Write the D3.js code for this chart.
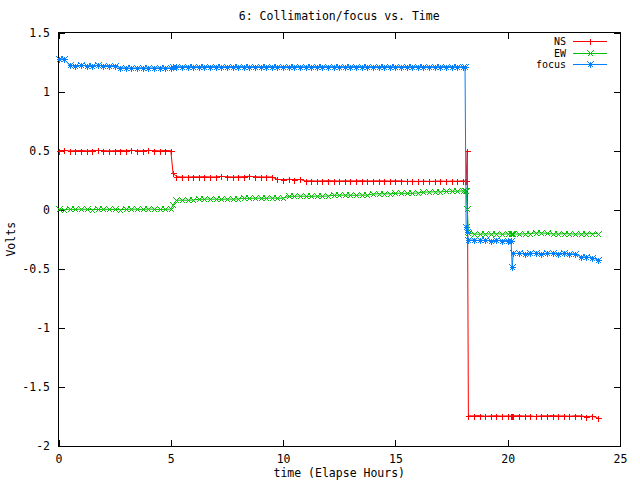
<!DOCTYPE html>
<html>
<head>
<meta charset="utf-8">
<script src="https://cdn.jsdelivr.net/npm/d3@7"></script>
<style>
  html, body { margin: 0; padding: 0; background: #fff; }
  svg { display: block; }
  text { font-family: "DejaVu Sans Mono", "Liberation Mono", monospace; font-size: 11.5px; fill: #000; }
  text.leg { font-size: 10px; }
</style>
</head>
<body>
<svg id="chart" width="640" height="480"></svg>
<script>
// ---- data ----
const hours = [
  0,0.25,0.5,0.75,1,1.25,1.5,1.75,2,2.25,2.5,2.75,3,3.25,3.5,3.75,4,4.25,4.5,4.75,5,
  5.1,
  5.25,5.5,5.75,6,6.25,6.5,6.75,7,7.25,7.5,7.75,8,8.25,8.5,8.75,9,9.25,9.5,9.75,10,
  10.25,10.5,10.75,11,11.25,11.5,11.75,12,12.25,12.5,12.75,13,13.25,13.5,13.75,14,
  14.25,14.5,14.75,15,15.25,15.5,15.75,16,16.25,16.5,16.75,17,17.25,17.5,17.75,18,
  18.1,18.15,18.2,18.25,
  18.5,18.75,19,19.25,19.5,19.75,20,
  20.15,20.2,20.25,
  20.5,20.75,21,21.25,21.5,21.75,22,22.25,22.5,22.75,23,23.25,23.5,23.75,24
];
const ns = [
  0.500,0.502,0.498,0.500,0.501,0.499,0.500,0.502,0.500,0.498,0.500,0.501,0.500,0.503,0.499,0.500,0.502,0.500,0.499,0.501,0.500,
  0.310,
  0.280,0.277,0.276,0.279,0.278,0.280,0.277,0.278,0.282,0.279,0.277,0.278,0.280,0.283,0.279,0.278,0.277,0.278,
  0.256,0.255,0.257,0.255,0.256,
  0.244,0.245,0.243,0.244,0.246,0.244,0.243,0.245,0.244,0.244,0.246,0.243,0.244,0.245,0.244,0.243,0.245,0.244,
  0.240,0.241,0.239,0.242,0.240,0.241,0.243,0.240,0.242,0.241,0.245,
  0.242,0.245,0.500,-1.745,
  -1.745,-1.742,-1.748,-1.745,-1.744,-1.747,-1.745,
  -1.746,-1.744,-1.745,
  -1.743,-1.746,-1.745,-1.750,-1.744,-1.745,-1.742,-1.746,-1.745,-1.748,-1.744,-1.745,-1.752,-1.748,-1.760
];
const ew = [
  0.003,0.001,0.004,0.002,0.005,0.003,0.001,0.002,0.004,0.003,0.002,0.001,0.003,0.005,0.004,0.002,0.006,0.004,0.002,0.003,0.005,
  0.040,
  0.080,0.081,0.080,0.082,
  0.088,0.089,0.090,0.089,0.088,0.090,0.089,0.091,
  0.097,0.096,0.098,0.097,0.097,0.099,0.097,0.098,
  0.113,0.114,0.115,0.114,0.113,0.115,0.114,0.116,
  0.122,0.123,0.124,0.123,0.122,0.124,0.123,
  0.133,0.134,0.135,0.134,
  0.139,0.140,0.138,0.139,0.141,
  0.149,0.150,0.151,0.150,
  0.155,0.156,0.157,0.158,
  0.157,0.155,0.010,-0.200,
  -0.205,-0.208,-0.204,-0.206,-0.203,-0.207,-0.205,
  -0.206,-0.204,-0.205,
  -0.207,-0.204,-0.203,-0.197,-0.196,-0.200,-0.205,-0.206,-0.203,-0.204,-0.206,-0.205,-0.204,-0.203,-0.202
];
const focus = [
  1.278,1.276,1.222,1.220,1.221,1.219,1.220,1.222,1.220,1.219,1.220,1.201,1.200,1.199,1.200,1.201,1.199,1.200,1.201,1.200,1.200,
  1.208,
  1.211,1.210,1.212,1.211,1.210,1.211,1.212,1.211,1.210,1.211,
  1.211,1.212,1.210,1.211,1.211,1.210,1.212,1.211,1.211,1.210,
  1.211,1.212,1.211,1.210,1.211,1.211,1.212,1.210,1.211,1.211,
  1.210,1.211,1.212,1.211,1.210,1.211,1.211,1.212,1.211,1.210,
  1.211,1.211,1.210,1.212,1.211,1.211,1.210,1.211,1.212,1.211,
  1.210,1.211,
  1.211,-0.150,-0.190,-0.255,
  -0.258,-0.260,-0.259,-0.261,-0.260,-0.262,-0.261,
  -0.262,-0.483,-0.370,
  -0.370,-0.371,-0.369,-0.370,-0.371,-0.370,-0.369,-0.371,-0.370,-0.372,-0.375,-0.398,-0.401,-0.405,-0.425
];
const seriesNames = ["NS", "EW", "focus"];
const seriesColors = ["#ff0000", "#00c000", "#0080ff"];
const seriesMarkers = ["plus", "cross", "star"];
const xTicks = [0, 5, 10, 15, 20, 25];
const yTicks = [-2, -1.5, -1, -0.5, 0, 0.5, 1, 1.5];
const yTickLabels = ["-2", "-1.5", "-1", "-0.5", "0", "0.5", "1", "1.5"];
const titleText = "6: Collimation/focus vs. Time";
const xTitle = "time (Elapse Hours)";
const yTitle = "Volts";

// ---- layout ----
const L = 58.5, R = 620, T = 32.5, B = 446;
const svg = d3.select("#chart");
const x = d3.scaleLinear().domain([0, 25]).range([L, R]);
const y = d3.scaleLinear().domain([-2, 1.5]).range([B, T]);

// frame
svg.append("rect").attr("x", L).attr("y", T).attr("width", R - L).attr("height", B - T)
  .attr("fill", "none").attr("stroke", "#000").attr("stroke-width", 1)
  .attr("shape-rendering", "crispEdges");

function styleAxis(g) {
  g.select(".domain").remove();
  g.selectAll("line").attr("stroke", "#000").attr("shape-rendering", "crispEdges");
  g.attr("font-family", null).attr("font-size", null);
}
svg.append("g").attr("transform", `translate(0,${B})`)
  .call(d3.axisBottom(x).tickValues(xTicks).tickFormat(d3.format("d")).tickSizeInner(-6).tickSizeOuter(0).tickPadding(9))
  .call(styleAxis);
svg.append("g").attr("transform", `translate(0,${T})`)
  .call(d3.axisTop(x).tickValues(xTicks).tickFormat("").tickSizeInner(-6).tickSizeOuter(0))
  .call(styleAxis);
svg.append("g").attr("transform", `translate(${L},0)`)
  .call(d3.axisLeft(y).tickValues(yTicks).tickFormat((d, i) => yTickLabels[i]).tickSizeInner(-6).tickSizeOuter(0).tickPadding(8.5))
  .call(styleAxis);
svg.append("g").attr("transform", `translate(${R},0)`)
  .call(d3.axisRight(y).tickValues(yTicks).tickFormat("").tickSizeInner(-6).tickSizeOuter(0))
  .call(styleAxis);

// titles
svg.append("text").attr("x", (L + R) / 2).attr("y", 16).attr("dy", "0.35em")
  .attr("text-anchor", "middle").text(titleText);
svg.append("text").attr("x", (L + R) / 2).attr("y", 473).attr("dy", "0.35em")
  .attr("text-anchor", "middle").text(xTitle);
svg.append("text").attr("transform", `translate(11,${(T + B) / 2}) rotate(-90)`)
  .attr("dy", "0.35em").attr("text-anchor", "middle").text(yTitle);

// markers
const markerPaths = {
  plus: "M-3,0H3M0,-3V3",
  cross: "M-3,-3L3,3M-3,3L3,-3",
  star: "M-3,0H3M0,-3V3M-3,-3L3,3M-3,3L3,-3"
};

const seriesValues = [ns, ew, focus];
const line = d3.line().x(d => x(d[0])).y(d => y(d[1]));
const plot = svg.append("g");

seriesValues.forEach((vals, si) => {
  const pts = hours.map((h, i) => [h, vals[i]]);
  const col = seriesColors[si];
  const g = plot.append("g");
  g.append("path").datum(pts).attr("d", line)
    .attr("fill", "none").attr("stroke", col).attr("stroke-width", 1);
  g.selectAll("path.pt").data(pts).join("path").attr("class", "pt")
    .attr("transform", d => `translate(${Math.round(x(d[0])) + 0.5},${Math.round(y(d[1])) + 0.5})`)
    .attr("d", markerPaths[seriesMarkers[si]])
    .attr("fill", "none").attr("stroke", col).attr("stroke-width", 1)
    .attr("shape-rendering", "crispEdges");
});

// legend
const legRight = 566, legX1 = 573, legX2 = 607, legY0 = 41, legDy = 11.7;
seriesNames.forEach((name, si) => {
  const yy = Math.round(legY0 + si * legDy) + 0.5;
  const col = seriesColors[si];
  svg.append("text").attr("class", "leg").attr("x", legRight).attr("y", yy).attr("dy", "0.35em")
    .attr("text-anchor", "end").text(name);
  svg.append("line").attr("x1", legX1).attr("x2", legX2).attr("y1", yy).attr("y2", yy)
    .attr("stroke", col).attr("stroke-width", 1).attr("shape-rendering", "crispEdges");
  svg.append("path").attr("transform", `translate(${Math.round((legX1 + legX2) / 2) + 0.5},${yy})`)
    .attr("d", markerPaths[seriesMarkers[si]])
    .attr("fill", "none").attr("stroke", col).attr("stroke-width", 1)
    .attr("shape-rendering", "crispEdges");
});
</script>
</body>
</html>
